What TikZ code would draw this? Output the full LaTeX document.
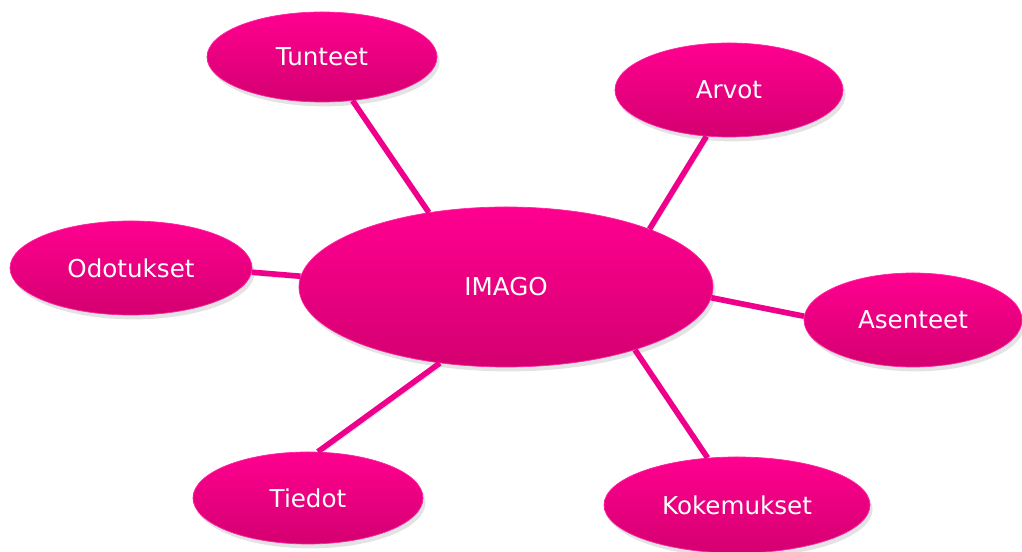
\documentclass[tikz,border=0pt]{standalone}
\usepackage{fontspec}
\setmainfont{DejaVu Sans}
\usetikzlibrary{shapes.geometric, shadows}

\definecolor{pinktop}{RGB}{255,0,144}
\definecolor{pinkbot}{RGB}{212,0,112}
\definecolor{pinkline}{RGB}{238,0,140}

\begin{document}
\begin{tikzpicture}[
  bubble/.style={ellipse, top color=pinktop, bottom color=pinkbot,
    draw=pinktop!85!white, thin, text=white, inner sep=0pt,
    font=\fontsize{14}{16}\selectfont,
    drop shadow={shadow xshift=1.5pt, shadow yshift=-2.5pt, opacity=0.22}},
  link/.style={pinkline, line width=3.2pt,
    preaction={draw=black, opacity=0.12, transform canvas={shift={(1pt,-1.8pt)}}}}
]
  \useasboundingbox (0,0) rectangle (20.44,11.04);

  % Centre
  \node[bubble, minimum width=8.28cm, minimum height=3.2cm] (imago) at (10.12,5.30) {IMAGO};

  % Outer ellipses
  \node[bubble, minimum width=4.6cm, minimum height=1.8cm] (tunteet) at (6.44,9.90) {Tunteet};
  \node[bubble, minimum width=4.56cm, minimum height=1.88cm] (arvot) at (14.58,9.24) {Arvot};
  \node[bubble, minimum width=4.84cm, minimum height=1.88cm] (odotukset) at (2.62,5.68) {Odotukset};
  \node[bubble, minimum width=4.36cm, minimum height=1.88cm] (asenteet) at (18.26,4.64) {Asenteet};
  \node[bubble, minimum width=4.6cm, minimum height=1.84cm] (tiedot) at (6.16,1.08) {Tiedot};
  \node[bubble, minimum width=5.32cm, minimum height=1.92cm] (kokemukset) at (14.74,0.94) {Kokemukset};

  % Spokes
  \draw[link] (tunteet.-55) -- (imago.136);
  \draw[link] (arvot.-116) -- (imago.22);
  \draw[link] (odotukset.-2) -- (imago.177);
  \draw[link] (asenteet.178) -- (imago.-3);
  \draw[link] (tiedot.78) -- (imago.-131);
  \draw[link] (kokemukset.122) -- (imago.-26);

\end{tikzpicture}
\end{document}
